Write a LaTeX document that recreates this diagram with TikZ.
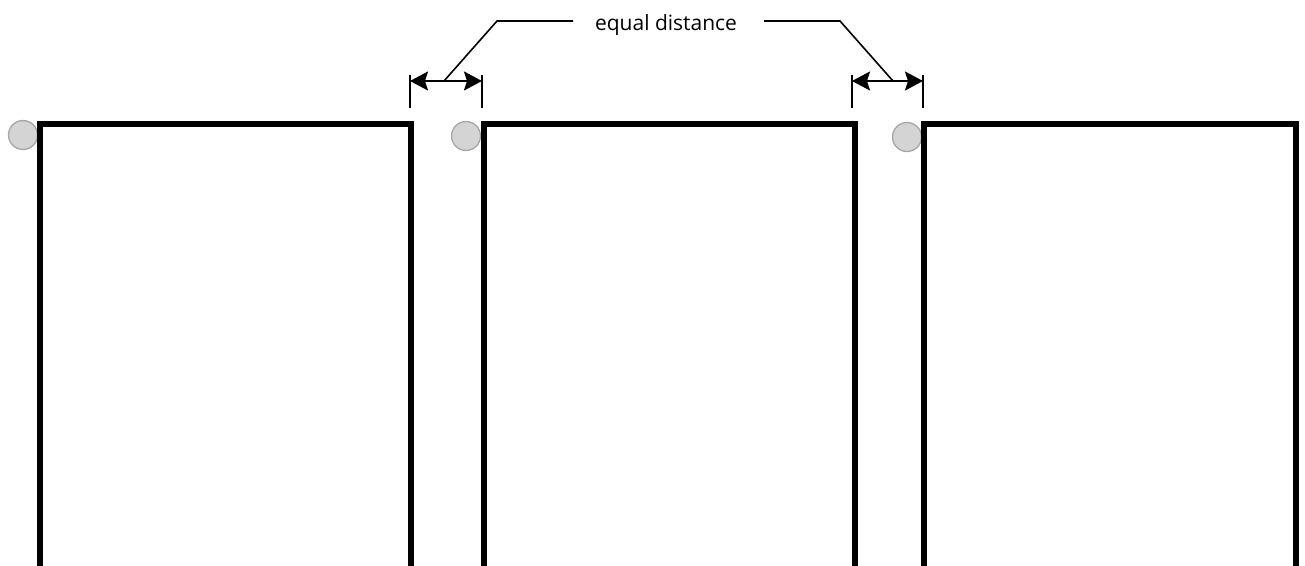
\documentclass[tikz,border=0pt]{standalone}
\usepackage{fontspec}
\setmainfont{Open Sans}
\usetikzlibrary{arrows.meta}
\begin{document}
\begin{tikzpicture}[x=1pt,y=-1pt,
  frame/.style={draw=black,line width=5.5pt,fill=white,inner sep=0pt,outer sep=0pt,anchor=north west},
  knob/.style={circle,draw=black!35,fill=black!17,line width=1.3pt,minimum size=29pt,inner sep=0pt},
  head/.style={Stealth[length=18pt,width=19pt,inset=3pt]},
  dimline/.style={line width=1.8pt,{Stealth[length=18pt,width=19pt,inset=3pt]}-{Stealth[length=18pt,width=19pt,inset=3pt]}},
  tick/.style={line width=1.8pt},
  leader/.style={line width=1.6pt},
  lbl/.style={font=\fontsize{21}{24}\selectfont,inner sep=0pt}]
\useasboundingbox (0,0) rectangle (1305,565);
\clip (0,0) rectangle (1305,565);
% knobs
\node[knob] (k1) at (23,135) {};
\node[knob] (k2) at (466,136) {};
\node[knob] (k3) at (907,137) {};
% frames
\node[frame,minimum width=371pt,minimum height=480pt] (f1) at (40,124) {};
\node[frame,minimum width=371pt,minimum height=480pt] (f2) at (484,124) {};
\node[frame,minimum width=372pt,minimum height=480pt] (f3) at (924,124) {};
% label
\node[lbl] (t) at (666,25) {equal distance};
% left dimension
\coordinate (la1) at (410,75); \coordinate (la2) at (410,108);
\coordinate (lb1) at (482,75); \coordinate (lb2) at (482,108);
\coordinate (lA) at (410,81); \coordinate (lB) at (482,81);
\draw[tick] (la1) -- (la2);
\draw[tick] (lb1) -- (lb2);
\draw[dimline] (lA) -- (lB);
\coordinate (lf) at (444,81); \coordinate (lk) at (497,21); \coordinate (ls) at (573,21);
\draw[leader] (lf) -- (lk) -- (ls);
% right dimension
\coordinate (ra1) at (852,75); \coordinate (ra2) at (852,108);
\coordinate (rb1) at (923,75); \coordinate (rb2) at (923,108);
\coordinate (rA) at (852,81); \coordinate (rB) at (923,81);
\draw[tick] (ra1) -- (ra2);
\draw[tick] (rb1) -- (rb2);
\draw[dimline] (rA) -- (rB);
\coordinate (rf) at (893,81); \coordinate (rk) at (840,21); \coordinate (rs) at (764,21);
\draw[leader] (rf) -- (rk) -- (rs);
\end{tikzpicture}
\end{document}
